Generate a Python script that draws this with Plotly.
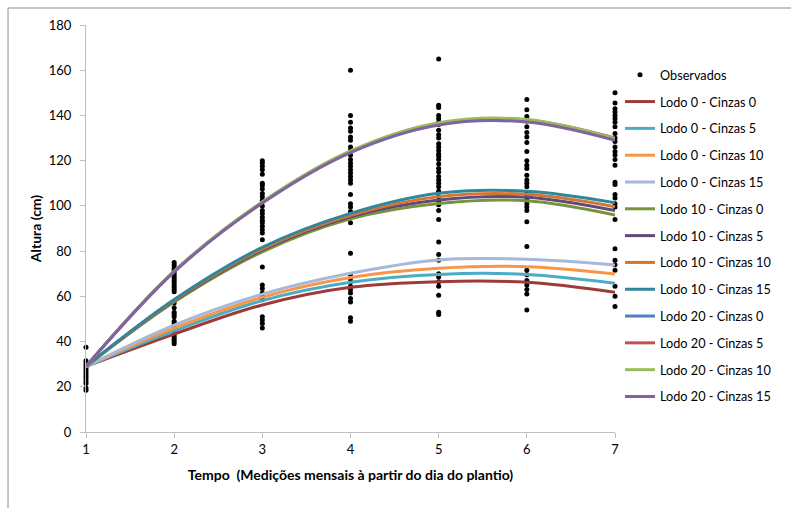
import plotly.graph_objects as go

# Measurement months (x axis)
tempo = [1, 2, 3, 4, 5, 6, 7]

# Observed plant heights (cm) at each monthly measurement
obs_t1 = [37.5, 31.5, 30.5, 29.5, 28.5, 27.5, 26.5, 25.5, 24.5, 23.5, 22.5, 21.5, 19.5, 18.5]
obs_t2 = [75, 74, 73, 72, 71, 70, 69, 68, 67, 66, 65, 64, 63, 62, 57, 55, 53, 52, 51, 49,
          48, 47, 46, 45, 44, 43, 42, 41, 40, 39]
obs_t3 = [120, 119, 117.5, 116, 114, 110, 109, 107.5, 105.5, 104, 102.5, 100, 98, 96.5, 95,
          93.5, 92.5, 91, 89.5, 88, 85, 73, 65, 63.5, 61.5, 60, 58.5, 51, 49.5, 48, 46]
obs_t4 = [160, 140, 137, 134.5, 133, 130.5, 129, 126, 124.5, 122.5, 120.5, 119, 117.5, 116,
          114.5, 113, 111.5, 110, 105, 101, 99.5, 97.5, 95, 92.5, 79, 69.5, 68, 66.5, 64.5,
          63, 61.5, 59, 57.5, 50.5, 49]
obs_t5 = [165, 144.5, 143.5, 140, 138.5, 137, 136, 133.5, 131.5, 130, 127.5, 126, 124.5, 123,
          122, 120.5, 118.5, 116.5, 115, 113, 111.5, 110, 108.5, 106.5, 104, 102, 100.5, 98,
          94, 84, 78.5, 76, 70, 68.5, 66.5, 64.5, 60.5, 53, 52]
obs_t6 = [147, 142.5, 139.5, 137.5, 135, 132.5, 130.5, 128, 124, 120, 118, 116.5, 113.5,
          111.5, 110, 108.5, 105.5, 104, 102.5, 101, 99.5, 98, 93, 82, 71.5, 69.5, 67, 65,
          63, 61, 54]
obs_t7 = [150, 145.5, 143, 141.5, 140, 138.5, 137, 135, 132, 130, 128.5, 126, 124, 122.5,
          120.5, 118, 110.5, 109.5, 105, 103.5, 101, 99.5, 94, 81, 76, 74, 71.5, 64.5, 60, 55.5]
observados = [obs_t1, obs_t2, obs_t3, obs_t4, obs_t5, obs_t6, obs_t7]

# Fitted growth curves per treatment
series_names = [
    "Lodo 0 - Cinzas 0", "Lodo 0 - Cinzas 5", "Lodo 0 - Cinzas 10", "Lodo 0 - Cinzas 15",
    "Lodo 10 - Cinzas 0", "Lodo 10 - Cinzas 5", "Lodo 10 - Cinzas 10", "Lodo 10 - Cinzas 15",
    "Lodo 20 - Cinzas 0", "Lodo 20 - Cinzas 5", "Lodo 20 - Cinzas 10", "Lodo 20 - Cinzas 15",
]
lodo0_c0 = [29, 43.3, 56.2, 64.0, 66.5, 66.2, 61.8]
lodo0_c5 = [29, 44.7, 58.1, 66.2, 69.7, 69.7, 65.8]
lodo0_c10 = [29, 45.9, 59.6, 68.3, 72.4, 73.1, 69.9]
lodo0_c15 = [29, 47.3, 61.0, 70.2, 76.1, 76.4, 73.9]
lodo10_c0 = [29, 57.5, 79.7, 94.3, 101.1, 102.3, 96.0]
lodo10_c5 = [29, 58.0, 80.5, 95.2, 102.6, 103.8, 97.9]
lodo10_c10 = [29, 58.3, 81.0, 95.8, 104.1, 105.1, 99.6]
lodo10_c15 = [29, 58.6, 81.7, 96.7, 105.6, 106.5, 101.4]
lodo20_c0 = [29, 71.0, 101.5, 124.0, 136.3, 137.8, 129.8]
lodo20_c5 = [29, 71.0, 101.5, 124.0, 136.5, 138.0, 130.0]
lodo20_c10 = [29, 71.2, 101.8, 124.3, 136.8, 138.2, 129.8]
lodo20_c15 = [29, 70.8, 101.3, 123.6, 135.8, 137.1, 129.0]
series_values = [lodo0_c0, lodo0_c5, lodo0_c10, lodo0_c15,
                 lodo10_c0, lodo10_c5, lodo10_c10, lodo10_c15,
                 lodo20_c0, lodo20_c5, lodo20_c10, lodo20_c15]
series_colors = ["#9E3B38", "#4BACC6", "#F79646", "#A6B9D9",
                 "#77933C", "#604A7B", "#D2772D", "#31859C",
                 "#4F81BD", "#C0504D", "#9BBB59", "#8064A2"]

ytick_vals = [0, 20, 40, 60, 80, 100, 120, 140, 160, 180]

FONT = "Lato, 'Liberation Sans', sans-serif"

fig = go.Figure()

obs_x = [t for t, vals in zip(tempo, observados) for _ in vals]
obs_y = [v for vals in observados for v in vals]
fig.add_trace(go.Scatter(
    x=obs_x, y=obs_y, mode="markers", name="Observados",
    marker=dict(color="black", size=5), cliponaxis=False, legendgroup="obs",
))

for name, vals, color in zip(series_names, series_values, series_colors):
    fig.add_trace(go.Scatter(
        x=tempo, y=vals, mode="lines", name=name,
        line=dict(color=color, width=3, shape="spline", smoothing=1.0),
        legendgroup=name,
    ))

# Frame around the chart area (left and top edges)
L, R, T, B = 86, 615, 25, 432
def px_x(p):
    return (p - L) / (R - L)
def px_y(p):
    return (B - p) / (B - T)

fig.add_shape(type="line", xref="paper", yref="paper",
              x0=px_x(8), x1=px_x(8), y0=px_y(8), y1=px_y(512),
              line=dict(color="#8C8C8C", width=1))
fig.add_shape(type="line", xref="paper", yref="paper",
              x0=px_x(8), x1=px_x(795), y0=px_y(8), y1=px_y(8),
              line=dict(color="#8C8C8C", width=1))

fig.update_layout(
    width=791, height=508,
    margin=dict(l=L, r=791 - R, t=T, b=508 - B),
    paper_bgcolor="white", plot_bgcolor="white",
    font=dict(family=FONT, size=13, color="black"),
    showlegend=True,
    legend=dict(
        x=px_x(620), y=px_y(60), xanchor="left", yanchor="top",
        font=dict(family=FONT, size=12.7, color="black"),
        tracegroupgap=7.3, itemwidth=30, bgcolor="rgba(0,0,0,0)",
    ),
    xaxis=dict(
        range=[1, 7], tickvals=tempo, ticktext=[str(t) for t in tempo],
        showgrid=False, zeroline=False, showline=True, linecolor="#BFBFBF", linewidth=1,
        ticks="outside", ticklen=5, tickcolor="#BFBFBF",
        tickfont=dict(family=FONT, size=13),
        title=dict(text="<b>Tempo  (Medições mensais à partir do dia do plantio)</b>",
                   font=dict(family=FONT, size=14), standoff=14),
    ),
    yaxis=dict(
        range=[0, 180], tickvals=ytick_vals,
        showgrid=False, zeroline=False, showline=True, linecolor="#BFBFBF", linewidth=1,
        ticks="outside", ticklen=5, tickcolor="#BFBFBF", ticklabelstandoff=6,
        tickfont=dict(family=FONT, size=13),
        title=dict(text="<b>Altura (cm)</b>", font=dict(family=FONT, size=14), standoff=3),
    ),
)

fig.write_html("out.html")
